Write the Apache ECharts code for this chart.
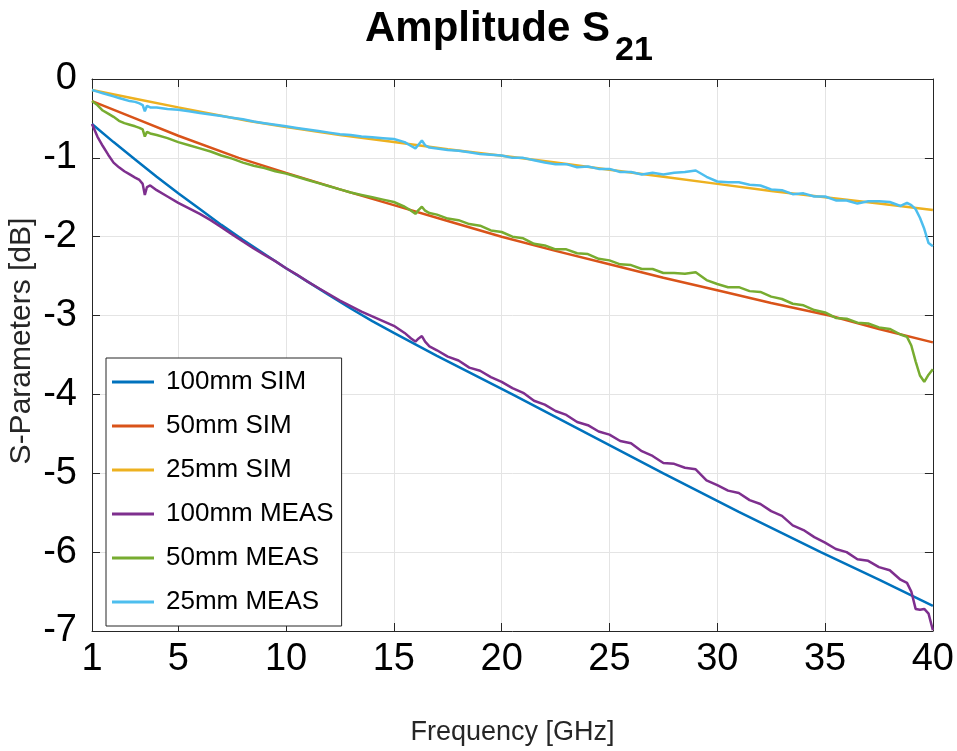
<!DOCTYPE html>
<html>
<head>
<meta charset="utf-8">
<script src="https://cdn.jsdelivr.net/npm/echarts@6/dist/echarts.min.js"></script>
<style>
html,body{margin:0;padding:0;background:#fff;}
#chart{width:957px;height:751px;}
</style>
</head>
<body>
<div id="chart"></div>
<script>
// ---- data ----
const seriesNames = ['100mm SIM', '50mm SIM', '25mm SIM', '100mm MEAS', '50mm MEAS', '25mm MEAS'];
const xTicks = [1, 5, 10, 15, 20, 25, 30, 35, 40];
const yLabelText = 'S-Parameters [dB]';

const sim100Freq = [1, 2, 3, 4, 5, 6, 7, 8, 9, 10, 11, 12, 13, 14, 15, 17, 20.5, 24, 27.5, 31, 34.8, 37.5, 40];
const sim100 = [-0.57, -0.80, -1.02, -1.24, -1.45, -1.65, -1.85, -2.04, -2.22, -2.40, -2.57, -2.74, -2.91, -3.07, -3.22, -3.51, -4.0, -4.5, -5.0, -5.49, -6.0, -6.35, -6.68];

const sim50Freq = [1, 3, 5, 7.8, 10, 12.5, 15, 17.5, 20, 22.5, 25, 27.5, 30, 32.5, 35.2, 37.5, 40];
const sim50 = [-0.28, -0.50, -0.72, -1.0, -1.19, -1.40, -1.60, -1.80, -2.0, -2.18, -2.35, -2.52, -2.68, -2.84, -3.0, -3.17, -3.34];

const sim25Freq = [1, 3, 5, 8.2, 10, 12.5, 15, 17.5, 20.5, 22.5, 25, 27.5, 30, 32.5, 35, 37.5, 40];
const sim25 = [-0.14, -0.25, -0.36, -0.53, -0.61, -0.71, -0.80, -0.89, -0.99, -1.06, -1.15, -1.24, -1.33, -1.42, -1.50, -1.58, -1.66];

const measFreq = [
  1, 1.25, 1.5, 1.75, 2, 2.25, 2.5, 2.75, 3, 3.2,
  3.35, 3.45, 3.55, 3.7, 4, 4.5, 5, 5.5, 6, 6.5,
  7, 7.5, 8, 8.5, 9, 9.5, 10, 10.5, 11, 11.5,
  12, 12.5, 13, 13.5, 14, 14.5, 15, 15.5, 15.8, 16,
  16.15, 16.3, 16.45, 16.65, 17, 17.5, 18, 18.5, 19, 19.5,
  20, 20.5, 21, 21.5, 22, 22.5, 23, 23.5, 24, 24.5,
  25, 25.5, 26, 26.5, 27, 27.5, 28, 28.5, 29, 29.5,
  30, 30.5, 31, 31.5, 32, 32.5, 33, 33.5, 34, 34.5,
  35, 35.5, 36, 36.5, 37, 37.5, 38, 38.5, 38.8, 39,
  39.2, 39.4, 39.6, 39.8, 40
];

const meas100 = [
  -0.57, -0.73, -0.85, -0.96, -1.06, -1.12, -1.17, -1.21, -1.25, -1.28,
  -1.33, -1.47, -1.37, -1.35, -1.41, -1.49, -1.57, -1.64, -1.71, -1.79,
  -1.88, -1.97, -2.06, -2.15, -2.23, -2.31, -2.40, -2.48, -2.57, -2.65,
  -2.73, -2.81, -2.88, -2.95, -3.01, -3.07, -3.13, -3.22, -3.29, -3.33,
  -3.29, -3.26, -3.33, -3.39, -3.44, -3.52, -3.57, -3.66, -3.70, -3.78,
  -3.84, -3.92, -3.98, -4.08, -4.13, -4.21, -4.26, -4.35, -4.39, -4.47,
  -4.51, -4.59, -4.62, -4.72, -4.78, -4.87, -4.88, -4.93, -4.95, -5.09,
  -5.15, -5.22, -5.25, -5.34, -5.39, -5.48, -5.54, -5.66, -5.72, -5.81,
  -5.88, -5.96, -6.00, -6.09, -6.11, -6.19, -6.23, -6.35, -6.39, -6.50,
  -6.72, -6.73, -6.72, -6.78, -6.99
];

const meas50 = [
  -0.28, -0.33, -0.40, -0.44, -0.48, -0.53, -0.56, -0.58, -0.60, -0.62,
  -0.64, -0.73, -0.67, -0.69, -0.71, -0.75, -0.80, -0.84, -0.88, -0.92,
  -0.97, -1.01, -1.06, -1.10, -1.13, -1.17, -1.20, -1.24, -1.28, -1.32,
  -1.36, -1.40, -1.44, -1.47, -1.50, -1.53, -1.56, -1.62, -1.67, -1.71,
  -1.66, -1.62, -1.67, -1.70, -1.72, -1.77, -1.79, -1.84, -1.86, -1.92,
  -1.94, -2.00, -2.02, -2.09, -2.11, -2.16, -2.16, -2.21, -2.22, -2.28,
  -2.30, -2.35, -2.36, -2.41, -2.41, -2.46, -2.46, -2.47, -2.45, -2.55,
  -2.60, -2.64, -2.64, -2.69, -2.70, -2.76, -2.79, -2.85, -2.87, -2.93,
  -2.96, -3.03, -3.04, -3.09, -3.10, -3.15, -3.17, -3.24, -3.27, -3.38,
  -3.58, -3.76, -3.84, -3.75, -3.68
];

const meas25 = [
  -0.14, -0.16, -0.18, -0.20, -0.22, -0.24, -0.26, -0.28, -0.29, -0.31,
  -0.33, -0.41, -0.34, -0.36, -0.36, -0.38, -0.39, -0.41, -0.43, -0.45,
  -0.47, -0.49, -0.51, -0.54, -0.56, -0.58, -0.60, -0.62, -0.64, -0.66,
  -0.68, -0.70, -0.71, -0.73, -0.74, -0.75, -0.76, -0.80, -0.85, -0.88,
  -0.83, -0.78, -0.84, -0.87, -0.88, -0.90, -0.91, -0.93, -0.95, -0.96,
  -0.97, -1.00, -1.00, -1.03, -1.06, -1.08, -1.08, -1.12, -1.11, -1.14,
  -1.14, -1.18, -1.18, -1.21, -1.19, -1.21, -1.19, -1.18, -1.16, -1.24,
  -1.30, -1.31, -1.31, -1.34, -1.35, -1.40, -1.41, -1.46, -1.45, -1.49,
  -1.49, -1.54, -1.54, -1.58, -1.55, -1.55, -1.56, -1.61, -1.57, -1.60,
  -1.65, -1.76, -1.90, -2.08, -2.12
];

const colors = ['#0072BD', '#D95319', '#EDB120', '#7E2F8E', '#77AC30', '#4DBEEE'];

// ---- build ----
function zip(xs, ys) { return xs.map((x, i) => [x, ys[i]]); }
const seriesData = [
  zip(sim100Freq, sim100), zip(sim50Freq, sim50), zip(sim25Freq, sim25),
  zip(measFreq, meas100), zip(measFreq, meas50), zip(measFreq, meas25)
];

const FONT = 'Liberation Sans, Arial, sans-serif';
const axisColor = '#262626';
const gridColor = '#e4e4e4';

const chart = echarts.init(document.getElementById('chart'), null, { renderer: 'canvas' });

const option = {
  animation: false,
  backgroundColor: '#ffffff',
  color: colors,
  title: {
    text: '{a|Amplitude S}{b|21}',
    left: 365,
    top: 8,
    padding: 0,
    textStyle: {
      rich: {
        a: { fontSize: 42, fontWeight: 'bold', fontFamily: FONT, color: '#000', lineHeight: 60, verticalAlign: 'top' },
        b: { fontSize: 34, fontWeight: 'bold', fontFamily: FONT, color: '#000', lineHeight: 26, verticalAlign: 'bottom', padding: [0, 0, 0, 5] }
      }
    }
  },
  graphic: [
    {
      type: 'text',
      x: 22, y: 341,
      rotation: Math.PI / 2,
      style: {
        text: yLabelText,
        fontSize: 30,
        fontFamily: FONT,
        fill: '#262626',
        align: 'center',
        verticalAlign: 'middle'
      }
    }
  ],
  grid: { left: 92, right: 23, top: 79, bottom: 112, containLabel: false },
  legend: {
    orient: 'vertical',
    left: 106,
    top: 358,
    padding: [9, 8, 9, 6],
    icon: 'rect',
    itemWidth: 42,
    itemHeight: 3,
    itemGap: 14,
    backgroundColor: '#ffffff',
    borderColor: '#262626',
    borderWidth: 1,
    borderRadius: 0,
    data: seriesNames,
    textStyle: { fontSize: 26, fontFamily: FONT, color: '#000', lineHeight: 30, padding: [0, 0, 0, 7] }
  },
  xAxis: [
    {
      type: 'value', min: 1, max: 40, position: 'bottom',
      name: 'Frequency [GHz]', nameLocation: 'middle', nameGap: 88,
      nameTextStyle: { fontSize: 27, fontFamily: FONT, color: '#262626' },
      axisLine: { show: true, onZero: false, lineStyle: { color: axisColor, width: 1 } },
      axisTick: { show: true, inside: true, length: 8, customValues: xTicks, lineStyle: { color: axisColor } },
      axisLabel: { customValues: xTicks, fontSize: 38, fontFamily: FONT, color: '#000', margin: 10 },
      splitLine: { show: true, lineStyle: { color: gridColor, width: 1 } }
    },
    {
      type: 'value', min: 1, max: 40, position: 'top',
      axisLine: { show: true, onZero: false, lineStyle: { color: axisColor, width: 1 } },
      axisTick: { show: true, inside: true, length: 8, customValues: xTicks, lineStyle: { color: axisColor } },
      axisLabel: { show: false },
      splitLine: { show: false }
    }
  ],
  yAxis: [
    {
      type: 'value', min: -7, max: 0, interval: 1, position: 'left',
      axisLine: { show: true, onZero: false, lineStyle: { color: axisColor, width: 1 } },
      axisTick: { show: true, inside: true, length: 8, lineStyle: { color: axisColor } },
      axisLabel: { fontSize: 38, fontFamily: FONT, color: '#000', margin: 15, padding: [6, 0, 0, 0] },
      splitLine: { show: true, lineStyle: { color: gridColor, width: 1 } }
    },
    {
      type: 'value', min: -7, max: 0, interval: 1, position: 'right',
      axisLine: { show: true, onZero: false, lineStyle: { color: axisColor, width: 1 } },
      axisTick: { show: true, inside: true, length: 8, lineStyle: { color: axisColor } },
      axisLabel: { show: false },
      splitLine: { show: false }
    }
  ],
  series: seriesNames.map((name, i) => ({
    name: name,
    type: 'line',
    xAxisIndex: 0,
    yAxisIndex: 0,
    data: seriesData[i],
    symbol: 'none',
    showSymbol: false,
    clip: true,
    lineStyle: { width: 2.5, color: colors[i] },
    itemStyle: { color: colors[i] },
    z: 2 + i
  }))
};

chart.setOption(option);
</script>
</body>
</html>
